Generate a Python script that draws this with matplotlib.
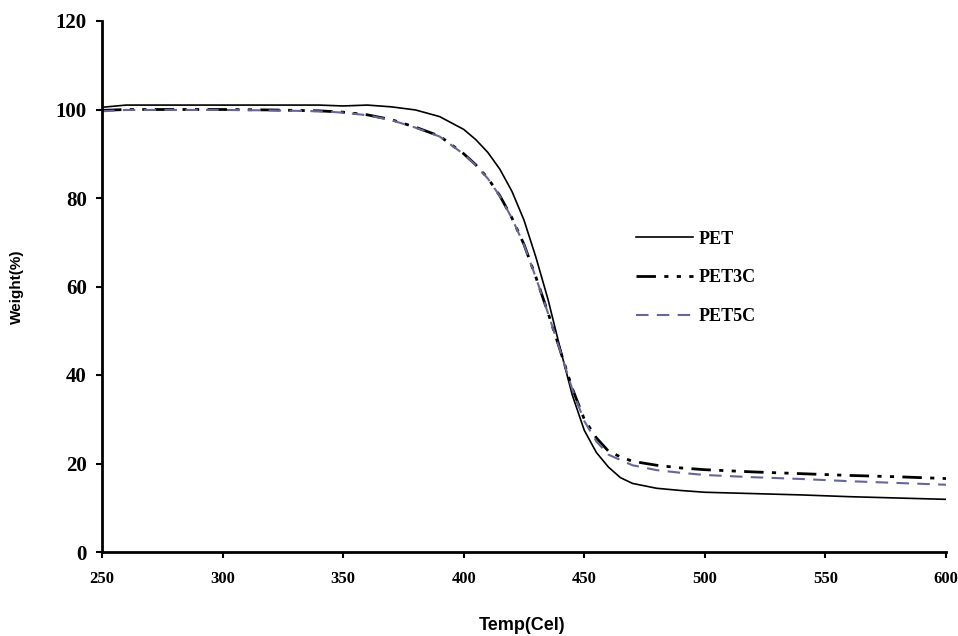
import matplotlib
matplotlib.use('Agg')
import matplotlib.pyplot as plt

# TGA curves
temp = [250, 260, 280, 300, 320, 340, 350, 360, 370, 380, 390, 400, 405, 410,
        415, 420, 425, 430, 435, 440, 445, 450, 455, 460, 465, 470, 480, 490,
        500, 520, 540, 560, 580, 600]
pet = [100.5, 101.0, 101.0, 101.0, 101.0, 101.0, 100.8, 101.0, 100.6, 99.9,
       98.4, 95.5, 93.2, 90.3, 86.5, 81.5, 75.0, 66.5, 57.0, 46.0, 35.5, 27.5,
       22.5, 19.2, 16.8, 15.5, 14.4, 13.9, 13.5, 13.2, 12.9, 12.5, 12.2, 11.9]
pet3c = [99.8, 100.0, 100.0, 100.0, 99.9, 99.7, 99.4, 98.8, 97.7, 96.0, 94.0,
         90.0, 87.5, 84.5, 80.5, 75.5, 69.5, 62.0, 54.0, 45.6, 37.0, 30.0,
         25.8, 22.8, 21.5, 20.5, 19.6, 19.0, 18.6, 18.1, 17.7, 17.3, 17.0, 16.6]
pet5c = [99.6, 99.9, 99.9, 99.9, 99.8, 99.6, 99.3, 98.7, 97.6, 95.9, 93.9,
         89.9, 87.4, 84.4, 80.4, 75.4, 69.4, 61.9, 53.9, 45.5, 36.8, 29.6,
         25.0, 22.0, 20.8, 19.6, 18.5, 17.9, 17.4, 16.9, 16.5, 16.0, 15.6, 15.2]

xticks = [250, 300, 350, 400, 450, 500, 550, 600]
yticks = [0, 20, 40, 60, 80, 100, 120]

serif = ['Liberation Serif', 'DejaVu Serif']
sans = ['Liberation Sans', 'DejaVu Sans']

fig = plt.figure(figsize=(9.58, 6.36), dpi=100)
ax = fig.add_axes([102/958, 1 - 552/636, (946 - 102)/958, (552 - 21)/636])

ax.plot(temp, pet, color='black', lw=1.2, label='PET')
ax.plot(temp, pet3c, color='black', lw=2.0, dashes=(7, 3, 1.5, 3, 1.5, 3), label='PET3C')
ax.plot(temp, pet5c, color='#666699', lw=1.5, dashes=(6, 4), label='PET5C')

ax.set_xlim(250, 600)
ax.set_ylim(0, 120)
ax.set_xticks(xticks)
ax.set_yticks(yticks)
ax.spines['top'].set_visible(False)
ax.spines['right'].set_visible(False)
for s in ['left', 'bottom']:
    ax.spines[s].set_linewidth(2)
ax.tick_params(axis='y', direction='out', length=4, width=1.5, pad=7)
ax.tick_params(axis='x', direction='out', length=4, width=1.5, pad=10)
for lab in ax.get_yticklabels():
    lab.set_family(serif)
    lab.set_fontweight('bold')
    lab.set_fontsize(15)
for lab in ax.get_xticklabels():
    lab.set_family(serif)
    lab.set_fontweight('bold')
    lab.set_fontsize(12)

leg = ax.legend(loc='upper left', bbox_to_anchor=(0.613, 0.636), frameon=False,
                prop={'family': serif, 'weight': 'bold', 'size': 13},
                handlelength=3.2, handletextpad=0.3, labelspacing=1.2)

fig.text(522/958, 1 - 626/636, 'Temp(Cel)', family=sans, fontweight='bold',
         fontsize=13, ha='center', va='center')
fig.text(17/958, 1 - 287/636, 'Weight(%)', family=sans, fontweight='bold',
         fontsize=11, ha='center', va='center', rotation=90)

fig.savefig('out.png', dpi=100)
